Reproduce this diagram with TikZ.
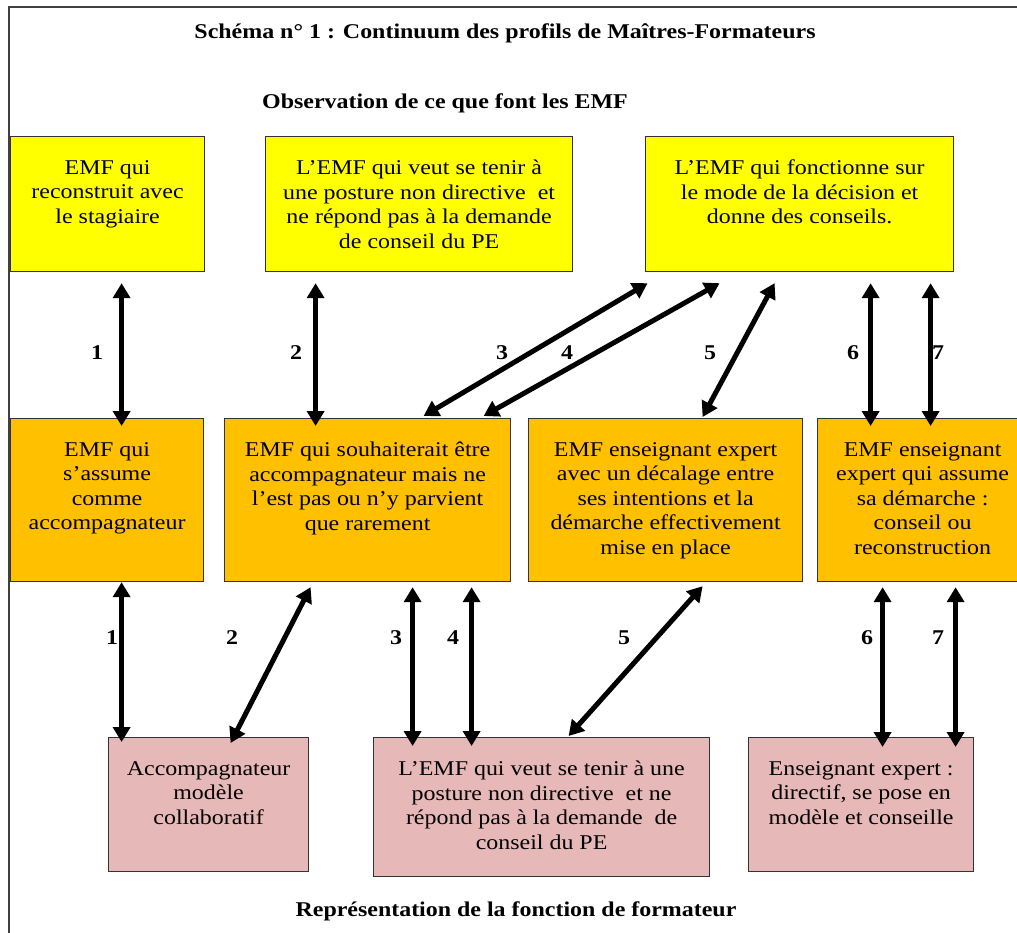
\documentclass[tikz,border=0pt]{standalone}
\usepackage{fontspec}
\setmainfont{Liberation Serif}[FakeStretch=1.14]
\usetikzlibrary{positioning,arrows.meta}
\definecolor{ylw}{RGB}{255,255,0}
\definecolor{org}{RGB}{255,192,0}
\definecolor{pnk}{RGB}{230,184,183}

\begin{document}
\begin{tikzpicture}[x=1pt,y=-1pt,
  font=\fontsize{21}{24.5}\selectfont,
  box/.style={draw=black!80, line width=1.2pt, anchor=north west, inner sep=0pt},
  txt/.style={align=center, inner sep=0pt, anchor=north},
  hd/.style={font=\fontsize{21}{24.5}\selectfont\bfseries},
  dbl/.style={line width=5pt, {Triangle[length=15pt,width=17pt]}-{Triangle[length=15pt,width=17pt]}}]
 \useasboundingbox (0,0) rectangle (1017,933);
 \fill[white] (0,0) rectangle (1017,933);
 \draw[black!75, line width=1.2pt] (1017,7) -- (9,7) -- (9,933);

 \node[hd] (title) at (505,33) {Schéma n° 1 : Continuum des profils de Maîtres-Formateurs};
 \node[hd] (obs) at (445,103) {Observation de ce que font les EMF};
 \node[hd] (rep) at (516,911) {Représentation de la fonction de formateur};

 % observation
 \node[box, fill=ylw, minimum width=194pt, minimum height=135pt] (y1) at (10,136) {};
 \node[box, fill=ylw, minimum width=307pt, minimum height=135pt] (y2) at (265,136) {};
 \node[box, fill=ylw, minimum width=308pt, minimum height=135pt] (y3) at (645,136) {};
 \node[txt, below=24pt of y1.north] (y1t) {EMF qui\\reconstruit avec\\le stagiaire};
 \node[txt, below=24pt of y2.north] (y2t) {L’EMF qui veut se tenir à\\une posture non directive~ et\\ne répond pas à la demande\\de conseil du PE};
 \node[txt, below=24pt of y3.north] (y3t) {L’EMF qui fonctionne sur\\le mode de la décision et\\donne des conseils.};

 % profils
 \node[box, fill=org, minimum width=193pt, minimum height=163pt] (o1) at (10,418) {};
 \node[box, fill=org, minimum width=286pt, minimum height=163pt] (o2) at (224,418) {};
 \node[box, fill=org, minimum width=274pt, minimum height=163pt] (o3) at (528,418) {};
 \node[box, fill=org, minimum width=210pt, minimum height=163pt] (o4) at (817,418) {};
 \node[txt, below=24pt of o1.north] (o1t) {EMF qui\\s’assume\\comme\\accompagnateur};
 \node[txt, below=24pt of o2.north] (o2t) {EMF qui souhaiterait être\\accompagnateur mais ne\\l’est pas ou n’y parvient\\que rarement};
 \node[txt, below=24pt of o3.north] (o3t) {EMF enseignant expert\\avec un décalage entre\\ses intentions et la\\démarche effectivement\\mise en place};
 \node[txt, below=24pt of o4.north] (o4t) {EMF enseignant\\expert qui assume\\sa démarche :\\conseil ou\\reconstruction};

 % representation
 \node[box, fill=pnk, minimum width=200pt, minimum height=134pt] (p1) at (108,737) {};
 \node[box, fill=pnk, minimum width=336pt, minimum height=139pt] (p2) at (373,737) {};
 \node[box, fill=pnk, minimum width=225pt, minimum height=134pt] (p3) at (748,737) {};
 \node[txt, below=24pt of p1.north] (p1t) {Accompagnateur\\modèle\\collaboratif};
 \node[txt, below=24pt of p2.north] (p2t) {L’EMF qui veut se tenir à une\\posture non directive~ et ne\\répond pas à la demande~ de\\conseil du PE};
 \node[txt, below=24pt of p3.north] (p3t) {Enseignant expert :\\directif, se pose en\\modèle et conseille};

 \foreach \n/\x in {1/97,2/296,3/502,4/567,5/710,6/853,7/938}
  \node[hd] (u\n) at (\x,353) {\n};
 \foreach \n/\x in {1/112,2/232,3/396,4/453,5/624,6/867,7/938}
  \node[hd] (l\n) at (\x,638) {\n};

 \draw[dbl] ([xshift=14pt,yshift=-11pt]y1.south) -- ([xshift=14.5pt,yshift=-8pt]o1.north);
 \draw[dbl] ([xshift=-103.5pt,yshift=-11pt]y2.south) -- ([xshift=-52pt,yshift=-8pt]o2.north);
 \draw[dbl] ([xshift=-152pt,yshift=-11pt]y3.south) -- ([xshift=56pt,yshift=2pt]o2.north);
 \draw[dbl] ([xshift=-80pt,yshift=-11pt]y3.south) -- ([xshift=116pt,yshift=2pt]o2.north);
 \draw[dbl] ([xshift=-25pt,yshift=-11pt]y3.south) -- ([xshift=37pt,yshift=1pt]o3.north);
 \draw[dbl] ([xshift=71pt,yshift=-11pt]y3.south) -- ([xshift=-52pt,yshift=-8pt]o4.north);
 \draw[dbl] ([xshift=131pt,yshift=-11pt]y3.south) -- ([xshift=8pt,yshift=-8pt]o4.north);

 \draw[dbl] ([xshift=14.5pt]o1.south) -- ([xshift=-87pt,yshift=-5pt]p1.north);
 \draw[dbl] ([xshift=-57pt,yshift=-5pt]o2.south) -- ([xshift=22pt,yshift=-6pt]p1.north);
 \draw[dbl] ([xshift=45pt,yshift=-5pt]o2.south) -- ([xshift=-129pt,yshift=-9pt]p2.north);
 \draw[dbl] ([xshift=104pt,yshift=-5pt]o2.south) -- ([xshift=-70pt,yshift=-9pt]p2.north);
 \draw[dbl] ([xshift=37pt,yshift=-4pt]o3.south) -- ([xshift=27pt,yshift=1pt]p2.north);
 \draw[dbl] ([xshift=-40pt,yshift=-5pt]o4.south) -- ([xshift=21.5pt,yshift=-10pt]p3.north);
 \draw[dbl] ([xshift=33pt,yshift=-5pt]o4.south) -- ([xshift=94.5pt,yshift=-10pt]p3.north);
\end{tikzpicture}
\end{document}
